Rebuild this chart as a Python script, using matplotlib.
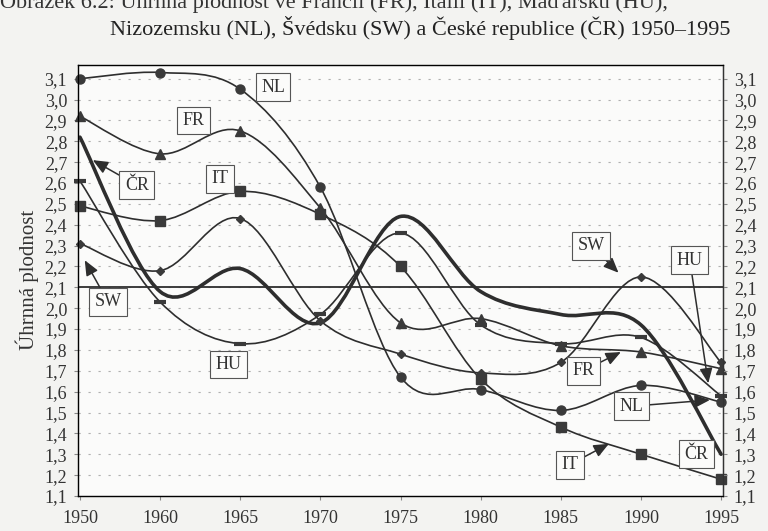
import numpy as np
import matplotlib
matplotlib.use('Agg')
import matplotlib.pyplot as plt
from matplotlib.path import Path
from matplotlib.patches import PathPatch
from matplotlib.ticker import FuncFormatter

plt.rcParams['font.family'] = ['Liberation Serif', 'DejaVu Serif']

# Data: total fertility rate
years = ['1950', '1960', '1965', '1970', '1975', '1980', '1985', '1990', '1995']
nl = [3.10, 3.13, 3.05, 2.58, 1.67, 1.61, 1.51, 1.63, 1.55]
fr = [2.92, 2.74, 2.85, 2.48, 1.93, 1.95, 1.82, 1.79, 1.71]
it = [2.49, 2.42, 2.56, 2.45, 2.20, 1.66, 1.43, 1.30, 1.18]
sw = [2.31, 2.18, 2.43, 1.94, 1.78, 1.69, 1.74, 2.15, 1.74]
hu = [2.61, 2.03, 1.83, 1.97, 2.36, 1.92, 1.83, 1.86, 1.58]
cr = [2.82, 2.08, 2.19, 1.93, 2.44, 2.08, 1.97, 1.92, 1.30]
replacement = 2.1

ink = '#2e2e2e'


def smooth_line(ax, ys, lw, color=ink):
    """Excel-like smoothed line drawn as cubic Bezier segments through the points."""
    xs = np.arange(len(ys), dtype=float)
    ys = np.asarray(ys, dtype=float)
    n = len(ys)
    verts = [(xs[0], ys[0])]
    codes = [Path.MOVETO]
    for i in range(n - 1):
        i0 = max(i - 1, 0)
        i3 = min(i + 2, n - 1)
        c1 = (xs[i] + (xs[i + 1] - xs[i0]) / 6, ys[i] + (ys[i + 1] - ys[i0]) / 6)
        c2 = (xs[i + 1] - (xs[i3] - xs[i]) / 6, ys[i + 1] - (ys[i3] - ys[i]) / 6)
        verts += [c1, c2, (xs[i + 1], ys[i + 1])]
        codes += [Path.CURVE4] * 3
    ax.add_patch(PathPatch(Path(verts, codes), fill=False, lw=lw,
                           edgecolor=color, capstyle='round', zorder=3))


fig = plt.figure(figsize=(7.68, 5.31), dpi=100, facecolor='#f3f3f1')
ax = fig.add_axes([0.102, 0.066, 0.839, 0.812])
ax.set_facecolor('#fbfbfa')

ax.set_xlim(-0.02, 8.02)
ax.set_ylim(1.1, 3.167)
yticks = np.round(np.arange(1.1, 3.15, 0.1), 1)
ax.set_yticks(yticks)
ax.set_xticks(range(len(years)))
ax.set_xticklabels(years)
comma = FuncFormatter(lambda v, _: f'{v:.1f}'.replace('.', ','))
ax.yaxis.set_major_formatter(comma)
ax.tick_params(labelsize=13, length=3, color='#888', colors='#333')
ax.tick_params(axis='x', pad=7)
ax.tick_params(axis='y', pad=5)

# dotted horizontal grid
for v in yticks[1:]:
    ax.axhline(v, color='#b0b0b0', lw=0.8, ls=(0, (2, 7)), zorder=1)

for s in ax.spines.values():
    s.set_color('#333')
    s.set_linewidth(1.0)

ax2 = ax.twinx()
ax2.set_ylim(ax.get_ylim())
ax2.set_yticks(yticks)
ax2.yaxis.set_major_formatter(comma)
ax2.tick_params(labelsize=13, length=3, color='#888', colors='#333', pad=5)
ax2.spines['right'].set_color('#333')

# replacement level
ax.axhline(replacement, color=ink, lw=1.3, zorder=2)

x = np.arange(len(years))
smooth_line(ax, nl, 1.2)
smooth_line(ax, fr, 1.2)
smooth_line(ax, it, 1.2)
smooth_line(ax, sw, 1.2)
smooth_line(ax, hu, 1.2)
smooth_line(ax, cr, 2.6)

mk = dict(ls='none', color='#3a3a3a', clip_on=False, zorder=4)
ax.plot(x, nl, marker='o', ms=6.5, **mk)
ax.plot(x, fr, marker='^', ms=7, **mk)
ax.plot(x, it, marker='s', ms=6.5, **mk)
ax.plot(x, sw, marker='D', ms=4, **mk)
ax.plot(x, hu, marker='_', ms=9, mew=3, **mk)

box = dict(boxstyle='square,pad=0.3', fc='#fbfbfa', ec='#555', lw=0.8)
arrow = dict(arrowstyle='-|>,head_length=0.7,head_width=0.3', color=ink,
             lw=1.1, shrinkA=0, shrinkB=0)
lab = dict(fontsize=13, ha='center', va='center', color='#333', bbox=box, zorder=6)

ax.text(2.41, 3.06, 'NL', **lab)
ax.text(1.42, 2.90, 'FR', **lab)
ax.text(1.75, 2.62, 'IT', **lab)
ax.text(1.85, 1.73, 'HU', **lab)
ax.text(7.69, 1.30, 'ČR', **lab)
ax.annotate('ČR', xy=(0.16, 2.71), xytext=(0.71, 2.59), arrowprops=arrow, **lab)
ax.annotate('SW', xy=(0.06, 2.23), xytext=(0.35, 2.03), arrowprops=arrow, **lab)
ax.annotate('SW', xy=(6.72, 2.17), xytext=(6.38, 2.30), arrowprops=arrow, **lab)
ax.annotate('HU', xy=(7.84, 1.64), xytext=(7.61, 2.23), arrowprops=arrow, **lab)
ax.annotate('FR', xy=(6.75, 1.79), xytext=(6.28, 1.70), arrowprops=arrow, **lab)
ax.annotate('NL', xy=(7.86, 1.56), xytext=(6.88, 1.53), arrowprops=arrow, **lab)
ax.annotate('IT', xy=(6.60, 1.35), xytext=(6.11, 1.25), arrowprops=arrow, **lab)

ax.set_ylabel('Úhrnná plodnost', fontsize=15, color='#333', labelpad=4)

fig.text(0.0, 0.997, 'Obrázek 6.2: Úhrnná plodnost ve Francii (FR), Itálii (IT), Maďarsku (HU),',
         fontsize=16, ha='left', va='center', color='#333')
fig.text(0.547, 0.947, 'Nizozemsku (NL), Švédsku (SW) a České republice (ČR) 1950–1995',
         fontsize=16, ha='center', va='center', color='#222')

fig.savefig('out.png', dpi=100, facecolor=fig.get_facecolor())
